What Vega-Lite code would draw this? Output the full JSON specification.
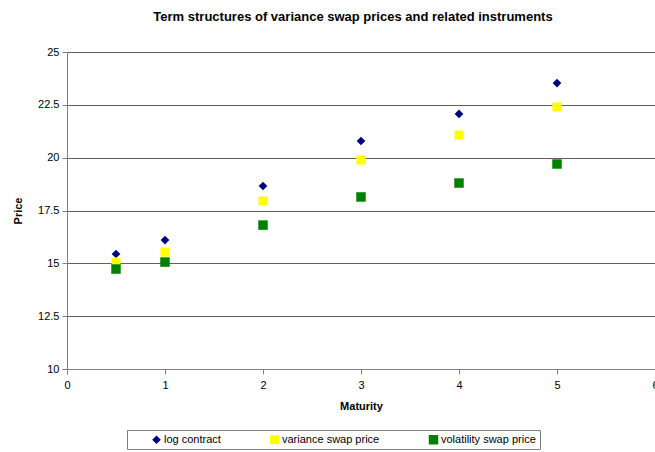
{
  "$schema": "https://vega.github.io/schema/vega-lite/v6.json",
  "autosize": {"type": "none"},
  "width": 588,
  "height": 317,
  "padding": {"left": 67, "top": 52, "right": 0, "bottom": 83},
  "background": "white",
  "config": {
    "view": {"stroke": null},
    "font": "Liberation Sans"
  },
  "title": {
    "text": "Term structures of variance swap prices and related instruments",
    "font": "Liberation Sans",
    "fontSize": 13,
    "fontWeight": "bold",
    "color": "black",
    "anchor": "middle",
    "offset": 22,
    "dx": -8
  },
  "data": {
    "values": [
      {"maturity": 0.5, "series": "log contract", "price": 15.44},
      {"maturity": 1, "series": "log contract", "price": 16.1},
      {"maturity": 2, "series": "log contract", "price": 18.66},
      {"maturity": 3, "series": "log contract", "price": 20.79},
      {"maturity": 4, "series": "log contract", "price": 22.07},
      {"maturity": 5, "series": "log contract", "price": 23.53},
      {"maturity": 0.5, "series": "variance swap price", "price": 15.06},
      {"maturity": 1, "series": "variance swap price", "price": 15.53},
      {"maturity": 2, "series": "variance swap price", "price": 17.95},
      {"maturity": 3, "series": "variance swap price", "price": 19.89},
      {"maturity": 4, "series": "variance swap price", "price": 21.07},
      {"maturity": 5, "series": "variance swap price", "price": 22.4},
      {"maturity": 0.5, "series": "volatility swap price", "price": 14.73},
      {"maturity": 1, "series": "volatility swap price", "price": 15.06},
      {"maturity": 2, "series": "volatility swap price", "price": 16.81},
      {"maturity": 3, "series": "volatility swap price", "price": 18.14},
      {"maturity": 4, "series": "volatility swap price", "price": 18.8},
      {"maturity": 5, "series": "volatility swap price", "price": 19.7}
    ]
  },
  "mark": {"type": "point", "filled": true, "opacity": 1, "strokeWidth": 0},
  "encoding": {
    "x": {
      "field": "maturity",
      "type": "quantitative",
      "scale": {"domain": [0, 6], "nice": false, "zero": false},
      "axis": {
        "title": "Maturity",
        "titleFont": "Liberation Sans",
        "titleFontSize": 11,
        "titleFontWeight": "bold",
        "titleColor": "black",
        "titlePadding": 10,
        "values": [0, 1, 2, 3, 4, 5, 6],
        "format": "d",
        "labelFont": "Liberation Sans",
        "labelFontSize": 11,
        "labelColor": "black",
        "labelPadding": 5,
        "labelFlush": false,
        "grid": false,
        "domainColor": "#808080",
        "tickColor": "#808080",
        "tickSize": 5
      }
    },
    "y": {
      "field": "price",
      "type": "quantitative",
      "scale": {"domain": [10, 25], "nice": false, "zero": false},
      "axis": {
        "title": "Price",
        "titleFont": "Liberation Sans",
        "titleFontSize": 11,
        "titleFontWeight": "bold",
        "titleColor": "black",
        "titlePadding": 14,
        "values": [10, 12.5, 15, 17.5, 20, 22.5, 25],
        "format": ".1~f",
        "labelFont": "Liberation Sans",
        "labelFontSize": 11,
        "labelColor": "black",
        "labelPadding": 3,
        "grid": true,
        "gridColor": "#606060",
        "gridWidth": 1,
        "domainColor": "#808080",
        "tickColor": "#808080",
        "tickSize": 5
      }
    },
    "color": {
      "field": "series",
      "type": "nominal",
      "scale": {
        "domain": ["log contract", "variance swap price", "volatility swap price"],
        "range": ["#000080", "#FFFF00", "#008000"]
      },
      "legend": {
        "title": null,
        "orient": "none",
        "direction": "horizontal",
        "legendX": 60,
        "legendY": 378,
        "strokeColor": "#808080",
        "fillColor": "white",
        "padding": 4,
        "columnPadding": 28,
        "symbolOffset": 20,
        "labelFont": "Liberation Sans",
        "labelFontSize": 11,
        "labelColor": "black",
        "labelOffset": 2,
        "symbolSize": 60,
        "offset": 0
      }
    },
    "shape": {
      "field": "series",
      "type": "nominal",
      "scale": {
        "domain": ["log contract", "variance swap price", "volatility swap price"],
        "range": ["diamond", "square", "square"]
      }
    },
    "size": {
      "field": "series",
      "type": "nominal",
      "scale": {
        "domain": ["log contract", "variance swap price", "volatility swap price"],
        "range": [75, 90, 90]
      },
      "legend": null
    }
  }
}
